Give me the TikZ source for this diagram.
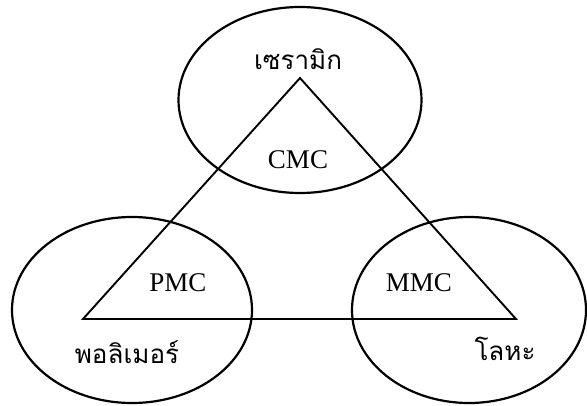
\documentclass[tikz,border=0pt]{standalone}
\usepackage{fontspec}
\setmainfont{Liberation Serif}
\newfontfamily\thaifont[Script=Thai]{Loma}
\usetikzlibrary{shapes.geometric}
\begin{document}
\begin{tikzpicture}[x=1pt,y=-1pt,
  phase/.style={draw,ellipse,line width=2.2pt,inner sep=0pt},
  edge/.style={line width=1.9pt,line join=miter},
  thai/.style={font=\thaifont\fontsize{26}{30}\selectfont,inner sep=0pt},
  code/.style={font=\fontsize{27}{30}\selectfont,inner sep=0pt}]
\useasboundingbox (0,0) rectangle (587,405);
% material families
\node[phase,minimum width=243pt,minimum height=186pt] (ceramic) at (300,100) {};
\node[phase,minimum width=240pt,minimum height=186pt] (polymer) at (132,310) {};
\node[phase,minimum width=234pt,minimum height=186pt] (metal) at (469,310) {};
% composite triangle
\coordinate (top) at (300,78);
\coordinate (left) at (83,319);
\coordinate (right) at (516,319);
\draw[edge] (top) -- (left) -- (right) -- cycle;
% labels
\node[thai] (lceramic) at (298,59) {เซรามิก};
\node[thai] (lpolymer) at (127,352) {พอลิเมอร์};
\node[thai] (lmetal) at (505,349) {โลหะ};
\node[code] (cmc) at (298,160) {CMC};
\node[code] (pmc) at (178,283) {PMC};
\node[code] (mmc) at (419,283) {MMC};
\end{tikzpicture}
\end{document}
